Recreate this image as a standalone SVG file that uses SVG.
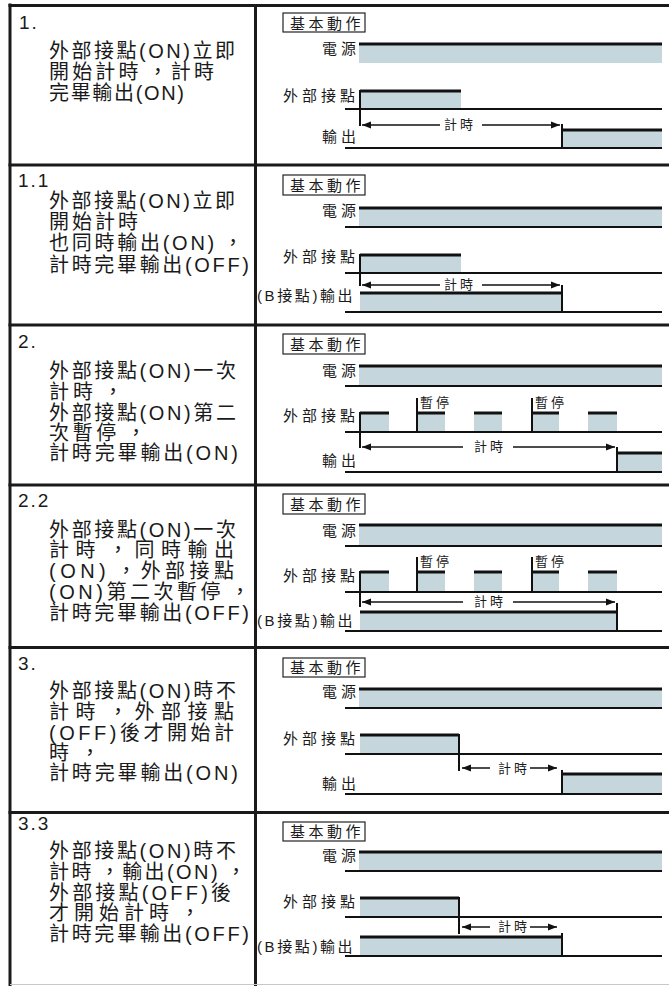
<svg xmlns="http://www.w3.org/2000/svg" width="669" height="986" viewBox="0 0 669 986">
<style>
.grid{stroke:#1a1a1a;stroke-width:3;fill:none}
.sig{stroke:#111;stroke-width:3}
.base{stroke:#111;stroke-width:2}
.v{stroke:#111;stroke-width:2}
.fl{fill:#c5d6dd}
.arr{stroke:#111;stroke-width:1.5;fill:none}
.box{fill:none;stroke:#222;stroke-width:1.2}
.num{font-family:"Liberation Sans","Noto Sans CJK TC",sans-serif;font-size:19px;letter-spacing:2px;fill:#1a1a1a}
.desc{font-family:"Liberation Sans","Noto Sans CJK TC",sans-serif;font-size:20px;fill:#1a1a1a}
.lbl{font-family:"Liberation Sans","Noto Sans CJK TC",sans-serif;font-size:15px;letter-spacing:4px;fill:#1a1a1a}
.ttl{font-family:"Liberation Sans","Noto Sans CJK TC",sans-serif;font-size:15px;letter-spacing:3.5px;fill:#1a1a1a}
.bl{font-family:"Liberation Sans","Noto Sans CJK TC",sans-serif;font-size:15px;letter-spacing:2.6px;fill:#1a1a1a}
.sm{font-family:"Liberation Sans","Noto Sans CJK TC",sans-serif;font-size:13px;letter-spacing:3px;fill:#1a1a1a}
</style>
<defs>
<marker id="ah" markerUnits="userSpaceOnUse" markerWidth="10" markerHeight="8" refX="9" refY="4" orient="auto">
<path d="M0,0.5 L9,4 L0,7.5 z" fill="#111"/>
</marker>
</defs>

<g id="grid">
<line class="grid" x1="10" y1="3.5" x2="10" y2="986"/>
<line class="grid" x1="8.5" y1="5.5" x2="669" y2="5.5"/>
<line class="grid" x1="255.5" y1="4" x2="255.5" y2="986"/>
<line class="grid" x1="8.5" y1="165" x2="669" y2="165"/>
<line class="grid" x1="8.5" y1="325" x2="669" y2="325"/>
<line class="grid" x1="8.5" y1="485" x2="669" y2="485"/>
<line class="grid" x1="8.5" y1="647.5" x2="669" y2="647.5"/>
<line class="grid" x1="8.5" y1="812.5" x2="669" y2="812.5"/>
<line x1="10" y1="984.5" x2="669" y2="984.5" stroke="#c8c8c8" stroke-width="1"/>
</g>

<g id="row-1">
<text class="num" x="19" y="29">1.</text>
<text class="desc" x="49" y="58" textLength="186" lengthAdjust="spacing">外部接點(ON)立即</text>
<text class="desc" x="49" y="79" textLength="165" lengthAdjust="spacing">開始計時<tspan dx="6">，</tspan>計時</text>
<text class="desc" x="49" y="100" textLength="135" lengthAdjust="spacing">完畢輸出(ON)</text>
<rect class="box" x="283" y="13" width="82" height="19"/>
<text class="ttl" x="290" y="29">基本動作</text>
<text class="lbl" x="322" y="54">電源</text>
<rect class="fl" x="359" y="44" width="303" height="19"/>
<line class="sig" x1="359" y1="44" x2="662" y2="44"/>
<text class="lbl" x="283" y="101">外部接點</text>
<rect class="fl" x="360" y="91" width="101" height="18"/>
<line class="sig" x1="360" y1="91" x2="461" y2="91"/>
<line class="v" x1="360" y1="90" x2="360" y2="126"/>
<line class="base" x1="345" y1="109" x2="662" y2="109"/>
<text class="lbl" x="322" y="142">輸出</text>
<rect class="fl" x="562" y="130" width="100" height="18"/>
<line class="sig" x1="562" y1="130" x2="662" y2="130"/>
<line class="v" x1="562" y1="124" x2="562" y2="148"/>
<line class="base" x1="345" y1="148" x2="662" y2="148"/>
<text class="sm" x="444" y="129">計時</text>
</g>

<g id="row-1-1">
<text class="num" x="18" y="187">1.1</text>
<text class="desc" x="49" y="208" textLength="186" lengthAdjust="spacing">外部接點(ON)立即</text>
<text class="desc" x="49" y="229" textLength="89" lengthAdjust="spacing">開始計時</text>
<text class="desc" x="49" y="250" textLength="194" lengthAdjust="spacing">也同時輸出(ON)<tspan dx="6">，</tspan></text>
<text class="desc" x="49" y="272" textLength="200" lengthAdjust="spacing">計時完畢輸出(OFF)</text>
<rect class="box" x="283" y="175" width="82" height="20"/>
<text class="ttl" x="290" y="191">基本動作</text>
<text class="lbl" x="322" y="216">電源</text>
<rect class="fl" x="359" y="208" width="303" height="19"/>
<line class="sig" x1="359" y1="208" x2="662" y2="208"/>
<line class="base" x1="345" y1="227" x2="662" y2="227"/>
<text class="lbl" x="283" y="262">外部接點</text>
<rect class="fl" x="360" y="255" width="101" height="18"/>
<line class="sig" x1="360" y1="255" x2="461" y2="255"/>
<line class="v" x1="360" y1="254" x2="360" y2="286"/>
<line class="base" x1="345" y1="273" x2="662" y2="273"/>
<text class="bl" x="257" y="301">(B接點)輸出</text>
<rect class="fl" x="360" y="293" width="202" height="19"/>
<line class="sig" x1="360" y1="293" x2="562" y2="293"/>
<line class="v" x1="562" y1="285" x2="562" y2="312"/>
<line class="base" x1="345" y1="312" x2="662" y2="312"/>
<text class="sm" x="444" y="289">計時</text>
</g>

<g id="row-2">
<text class="num" x="18" y="348">2.</text>
<text class="desc" x="49" y="378" textLength="187" lengthAdjust="spacing">外部接點(ON)一次</text>
<text class="desc" x="49" y="399" textLength="74" lengthAdjust="spacing">計時<tspan dx="6">，</tspan></text>
<text class="desc" x="49" y="420" textLength="187" lengthAdjust="spacing">外部接點(ON)第二</text>
<text class="desc" x="49" y="440" textLength="97" lengthAdjust="spacing">次暫停<tspan dx="6">，</tspan></text>
<text class="desc" x="49" y="460" textLength="189" lengthAdjust="spacing">計時完畢輸出(ON)</text>
<rect class="box" x="283" y="334" width="82" height="20"/>
<text class="ttl" x="290" y="350">基本動作</text>
<text class="lbl" x="322" y="376">電源</text>
<rect class="fl" x="359" y="366" width="303" height="20"/>
<line class="sig" x1="359" y1="366" x2="662" y2="366"/>
<line class="base" x1="345" y1="386" x2="662" y2="386"/>
<text class="lbl" x="283" y="421">外部接點</text>
<rect class="fl" x="360" y="413" width="29" height="19"/>
<rect class="fl" x="417" y="413" width="28" height="19"/>
<rect class="fl" x="474" y="413" width="28" height="19"/>
<rect class="fl" x="532" y="413" width="27" height="19"/>
<rect class="fl" x="588" y="413" width="29" height="19"/>
<line class="sig" x1="360" y1="413" x2="389" y2="413"/>
<line class="sig" x1="417" y1="413" x2="445" y2="413"/>
<line class="sig" x1="474" y1="413" x2="502" y2="413"/>
<line class="sig" x1="532" y1="413" x2="559" y2="413"/>
<line class="sig" x1="588" y1="413" x2="617" y2="413"/>
<line class="v" x1="360" y1="412" x2="360" y2="448"/>
<line class="v" x1="417" y1="398" x2="417" y2="432"/>
<line class="v" x1="532" y1="398" x2="532" y2="432"/>
<text class="sm" x="420" y="407">暫停</text>
<text class="sm" x="535" y="407">暫停</text>
<line class="base" x1="345" y1="432" x2="662" y2="432"/>
<text class="lbl" x="322" y="466">輸出</text>
<rect class="fl" x="617" y="453" width="45" height="19"/>
<line class="sig" x1="617" y1="453" x2="662" y2="453"/>
<line class="v" x1="617" y1="447" x2="617" y2="472"/>
<line class="base" x1="345" y1="472" x2="662" y2="472"/>
<text class="sm" x="474" y="451">計時</text>
</g>

<g id="row-2-2">
<text class="num" x="18" y="507">2.2</text>
<text class="desc" x="49" y="537" textLength="187" lengthAdjust="spacing">外部接點(ON)一次</text>
<text class="desc" x="49" y="557" textLength="185" lengthAdjust="spacing">計時<tspan dx="6">，</tspan>同時輸出</text>
<text class="desc" x="49" y="578" textLength="185" lengthAdjust="spacing">(ON)<tspan dx="6">，</tspan>外部接點</text>
<text class="desc" x="49" y="599" textLength="201" lengthAdjust="spacing">(ON)第二次暫停<tspan dx="6">，</tspan></text>
<text class="desc" x="49" y="620" textLength="200" lengthAdjust="spacing">計時完畢輸出(OFF)</text>
<rect class="box" x="283" y="494" width="82" height="20"/>
<text class="ttl" x="290" y="510">基本動作</text>
<text class="lbl" x="322" y="536">電源</text>
<rect class="fl" x="359" y="525" width="303" height="21"/>
<line class="sig" x1="359" y1="525" x2="662" y2="525"/>
<line class="base" x1="345" y1="546" x2="662" y2="546"/>
<text class="lbl" x="283" y="581">外部接點</text>
<rect class="fl" x="360" y="572" width="29" height="20"/>
<rect class="fl" x="417" y="572" width="28" height="20"/>
<rect class="fl" x="474" y="572" width="28" height="20"/>
<rect class="fl" x="532" y="572" width="27" height="20"/>
<rect class="fl" x="588" y="572" width="29" height="20"/>
<line class="sig" x1="360" y1="572" x2="389" y2="572"/>
<line class="sig" x1="417" y1="572" x2="445" y2="572"/>
<line class="sig" x1="474" y1="572" x2="502" y2="572"/>
<line class="sig" x1="532" y1="572" x2="559" y2="572"/>
<line class="sig" x1="588" y1="572" x2="617" y2="572"/>
<line class="v" x1="360" y1="571" x2="360" y2="607"/>
<line class="v" x1="417" y1="557" x2="417" y2="592"/>
<line class="v" x1="532" y1="557" x2="532" y2="592"/>
<text class="sm" x="420" y="566">暫停</text>
<text class="sm" x="535" y="566">暫停</text>
<line class="base" x1="345" y1="592" x2="662" y2="592"/>
<text class="bl" x="257" y="626">(B接點)輸出</text>
<rect class="fl" x="360" y="612" width="257" height="19"/>
<line class="sig" x1="360" y1="612" x2="617" y2="612"/>
<line class="v" x1="617" y1="603" x2="617" y2="631"/>
<line class="base" x1="345" y1="631" x2="662" y2="631"/>
<text class="sm" x="474" y="606">計時</text>
</g>

<g id="row-3">
<text class="num" x="18" y="670">3.</text>
<text class="desc" x="49" y="698" textLength="187" lengthAdjust="spacing">外部接點(ON)時不</text>
<text class="desc" x="49" y="719" textLength="185" lengthAdjust="spacing">計時<tspan dx="6">，</tspan>外部接點</text>
<text class="desc" x="49" y="740" textLength="185" lengthAdjust="spacing">(OFF)後才開始計</text>
<text class="desc" x="49" y="760" textLength="51" lengthAdjust="spacing">時<tspan dx="6">，</tspan></text>
<text class="desc" x="49" y="780" textLength="189" lengthAdjust="spacing">計時完畢輸出(ON)</text>
<rect class="box" x="283" y="658" width="82" height="19"/>
<text class="ttl" x="290" y="673">基本動作</text>
<text class="lbl" x="322" y="697">電源</text>
<rect class="fl" x="359" y="689" width="303" height="19"/>
<line class="sig" x1="359" y1="689" x2="662" y2="689"/>
<line class="base" x1="345" y1="708" x2="662" y2="708"/>
<text class="lbl" x="283" y="744">外部接點</text>
<rect class="fl" x="360" y="735" width="99" height="19"/>
<line class="sig" x1="360" y1="735" x2="459" y2="735"/>
<line class="v" x1="459" y1="734" x2="459" y2="771"/>
<line class="base" x1="345" y1="754" x2="662" y2="754"/>
<text class="lbl" x="322" y="789">輸出</text>
<rect class="fl" x="562" y="774" width="100" height="20"/>
<line class="sig" x1="562" y1="774" x2="662" y2="774"/>
<line class="v" x1="562" y1="770" x2="562" y2="794"/>
<line class="base" x1="345" y1="794" x2="662" y2="794"/>
<text class="sm" x="498" y="773">計時</text>
</g>

<g id="row-3-3">
<text class="num" x="18" y="830">3.3</text>
<text class="desc" x="49" y="858" textLength="187" lengthAdjust="spacing">外部接點(ON)時不</text>
<text class="desc" x="49" y="879" textLength="197" lengthAdjust="spacing">計時<tspan dx="6">，</tspan>輸出(ON)<tspan dx="6">，</tspan></text>
<text class="desc" x="49" y="900" textLength="182" lengthAdjust="spacing">外部接點(OFF)後</text>
<text class="desc" x="49" y="920" textLength="151" lengthAdjust="spacing">才開始計時<tspan dx="6">，</tspan></text>
<text class="desc" x="49" y="941" textLength="200" lengthAdjust="spacing">計時完畢輸出(OFF)</text>
<rect class="box" x="283" y="822" width="82" height="19"/>
<text class="ttl" x="290" y="837">基本動作</text>
<text class="lbl" x="322" y="861">電源</text>
<rect class="fl" x="359" y="852" width="303" height="19"/>
<line class="sig" x1="359" y1="852" x2="662" y2="852"/>
<line class="base" x1="345" y1="871" x2="662" y2="871"/>
<text class="lbl" x="283" y="907">外部接點</text>
<rect class="fl" x="360" y="898" width="99" height="19"/>
<line class="sig" x1="360" y1="898" x2="459" y2="898"/>
<line class="v" x1="459" y1="897" x2="459" y2="934"/>
<line class="base" x1="345" y1="917" x2="662" y2="917"/>
<text class="bl" x="257" y="952">(B接點)輸出</text>
<rect class="fl" x="360" y="937" width="202" height="19"/>
<line class="sig" x1="360" y1="937" x2="562" y2="937"/>
<line class="v" x1="562" y1="933" x2="562" y2="956"/>
<line class="base" x1="345" y1="956" x2="662" y2="956"/>
<text class="sm" x="498" y="931">計時</text>
</g>

<g id="connectors">
<line class="arr" x1="440" y1="125" x2="362" y2="125" marker-end="url(#ah)"/>
<line class="arr" x1="482" y1="125" x2="560" y2="125" marker-end="url(#ah)"/>
<line class="arr" x1="440" y1="285" x2="362" y2="285" marker-end="url(#ah)"/>
<line class="arr" x1="482" y1="285" x2="560" y2="285" marker-end="url(#ah)"/>
<line class="arr" x1="463" y1="447" x2="362" y2="447" marker-end="url(#ah)"/>
<line class="arr" x1="513" y1="447" x2="615" y2="447" marker-end="url(#ah)"/>
<line class="arr" x1="463" y1="602" x2="362" y2="602" marker-end="url(#ah)"/>
<line class="arr" x1="513" y1="602" x2="615" y2="602" marker-end="url(#ah)"/>
<line class="arr" x1="490" y1="768" x2="462" y2="768" marker-end="url(#ah)"/>
<line class="arr" x1="530" y1="768" x2="557" y2="768" marker-end="url(#ah)"/>
<line class="arr" x1="490" y1="927" x2="462" y2="927" marker-end="url(#ah)"/>
<line class="arr" x1="530" y1="927" x2="557" y2="927" marker-end="url(#ah)"/>
</g>
</svg>
